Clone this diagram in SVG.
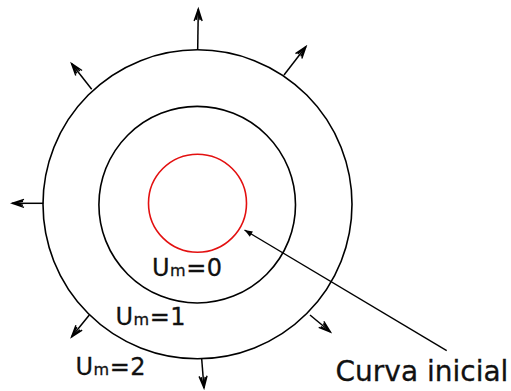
<svg xmlns="http://www.w3.org/2000/svg" width="511" height="391" viewBox="0 0 511 391">
<defs>
<marker id="ah" markerUnits="userSpaceOnUse" markerWidth="18" markerHeight="14" refX="0" refY="0" viewBox="-15 -7 17 14" orient="auto">
<path d="M-12,-4 L0,0 L-12,4 M-11,-2 L-1,0 L-11,2" fill="none" stroke="#000" stroke-width="1.4"/>
</marker>
<marker id="ptr" markerUnits="userSpaceOnUse" markerWidth="12" markerHeight="10" refX="0" refY="0" viewBox="-10 -5 12 10" orient="auto">
<path d="M-8,-3 L0,0 L-8,3 Z" fill="#000"/>
</marker>
</defs>
<style>
.c{fill:none;stroke:#000;stroke-width:1.6}
.a{fill:none;stroke:#000;stroke-width:1.5;marker-end:url(#ah)}
.t{font-family:"DejaVu Sans",sans-serif;fill:#111;stroke:#111;stroke-width:0.3}
</style>
<rect width="511" height="391" fill="#fff"/>
<g id="outer"><circle class="c" cx="197.5" cy="204.3" r="154.5"/></g>
<g id="middle"><circle class="c" cx="197.2" cy="204.7" r="98.3"/></g>
<g id="initial"><circle cx="197.5" cy="203.2" r="49" fill="none" stroke="#e31010" stroke-width="1.6"/></g>
<g id="connectors">
<line class="a" x1="197.7" y1="49.5" x2="198.3" y2="9"/>
<line class="a" x1="284" y1="75" x2="306" y2="46.5"/>
<line class="a" x1="91.7" y1="89.3" x2="71.5" y2="63.5"/>
<line class="a" x1="43.3" y1="203.3" x2="12" y2="203.3"/>
<line class="a" x1="89.3" y1="315" x2="71.5" y2="337"/>
<line class="a" x1="310" y1="315" x2="330.5" y2="332"/>
<line class="a" x1="201.7" y1="359" x2="204" y2="388"/>
<line x1="446.7" y1="350.7" x2="244.5" y2="230" stroke="#000" stroke-width="1.4" marker-end="url(#ptr)"/>
</g>
<g id="labels">
<text class="t" x="152" y="276" font-size="24" letter-spacing="0.5">U<tspan font-size="16">m</tspan>=0</text>
<text class="t" x="115.5" y="324.5" font-size="24" letter-spacing="0.5">U<tspan font-size="16">m</tspan>=1</text>
<text class="t" x="75.5" y="375" font-size="24" letter-spacing="0.5">U<tspan font-size="16">m</tspan>=2</text>
<text class="t" x="335.5" y="381" font-size="28">Curva inicial</text>
</g>
</svg>
